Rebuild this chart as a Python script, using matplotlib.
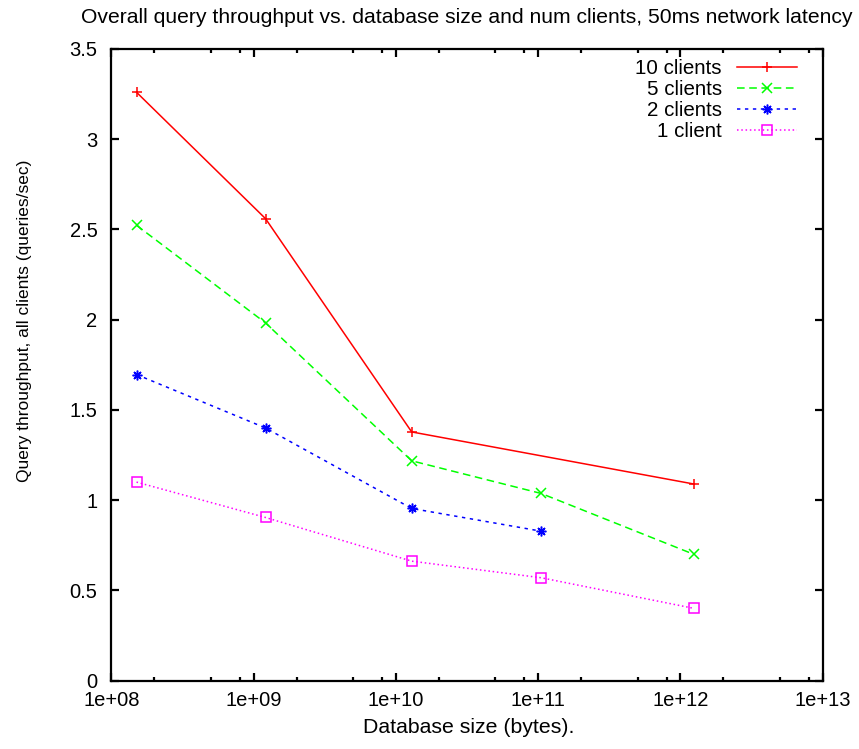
import numpy as np
import matplotlib
matplotlib.use('Agg')
import matplotlib.pyplot as plt
from matplotlib.ticker import LogLocator, NullFormatter, FixedLocator, FuncFormatter

plt.rcParams['font.family'] = ['Liberation Sans', 'DejaVu Sans']
plt.rcParams['font.size'] = 14.5

# valores
db_size = [1.5e8, 1.21e9, 1.29e10, 1.05e11, 1.25e12]
clients10 = [3.26, 2.56, 1.378, None, 1.089]
clients5 = [2.523, 1.982, 1.218, 1.037, 0.699]
clients2 = [1.696, 1.400, 0.954, 0.828, None]
clients1 = [1.100, 0.904, 0.662, 0.570, 0.400]

y_ticks = [0, 0.5, 1, 1.5, 2, 2.5, 3, 3.5]
y_tick_labels = ['0', '0.5', '1', '1.5', '2', '2.5', '3', '3.5']


def pares(xs, ys):
    # remove pontos sem valor
    pts = [(x, y) for x, y in zip(xs, ys) if y is not None]
    return [p[0] for p in pts], [p[1] for p in pts]


fig = plt.figure(figsize=(8.59, 7.49), dpi=100)
ax = fig.add_axes([0.1298, 0.0913, 0.8279, 0.8433])

x, y = pares(db_size, clients10)
ax.plot(x, y, color='#ff0000', lw=1.1, marker='+', ms=7, mew=1.1, label='10 clients')
x, y = pares(db_size, clients5)
ax.plot(x, y, color='#00ff00', lw=1.1, dashes=(5, 3), marker='x', ms=7.5, mew=1.1, label='5 clients')
x, y = pares(db_size, clients2)
ax.plot(x, y, color='#0000ff', lw=1.1, dashes=(2.2, 3), marker=(8, 2, 0), ms=7, mew=1.1, label='2 clients')
x, y = pares(db_size, clients1)
ax.plot(x, y, color='#ff00ff', lw=1.1, dashes=(1, 1.8), marker='s', ms=7.5, mew=1.1,
        mfc='none', label='1 client')

ax.set_xscale('log')
ax.set_xlim(1e8, 1e13)
ax.set_ylim(0, 3.5)
ax.xaxis.set_major_locator(LogLocator(base=10, numticks=10))
ax.xaxis.set_minor_locator(LogLocator(base=10, subs=[2, 5, 8], numticks=20))
ax.xaxis.set_minor_formatter(NullFormatter())
ax.xaxis.set_major_formatter(FuncFormatter(lambda v, p: '1e+%02d' % int(round(np.log10(v)))))
ax.yaxis.set_major_locator(FixedLocator(y_ticks))
ax.set_yticklabels(y_tick_labels)

for s in ax.spines.values():
    s.set_linewidth(1.6)
ax.tick_params(which='both', direction='in', top=True, right=True, width=1.6)
ax.tick_params(which='major', length=6)
ax.tick_params(which='minor', length=3)
ax.tick_params(axis='y', pad=10)
ax.tick_params(axis='x', pad=7.5)

ax.set_title('Overall query throughput vs. database size and num clients, 50ms network latency',
             pad=19, fontsize=15.2)
ax.set_xlabel('Database size (bytes).', fontsize=15.3, va='center')
ax.xaxis.set_label_coords(0.502, -0.0735)
ax.set_ylabel('Query throughput, all clients (queries/sec)', fontsize=12.5, va='center')
ax.yaxis.set_label_coords(-0.123, 0.569)

leg = ax.legend(loc='upper right', bbox_to_anchor=(1 - 26 / 711, 1 - 10 / 632), borderaxespad=0,
                borderpad=0, frameon=False, markerfirst=False, numpoints=1, fontsize=14.8,
                handlelength=2.92, handletextpad=0.73, labelspacing=0.1)

fig.savefig('out.png', dpi=100)
